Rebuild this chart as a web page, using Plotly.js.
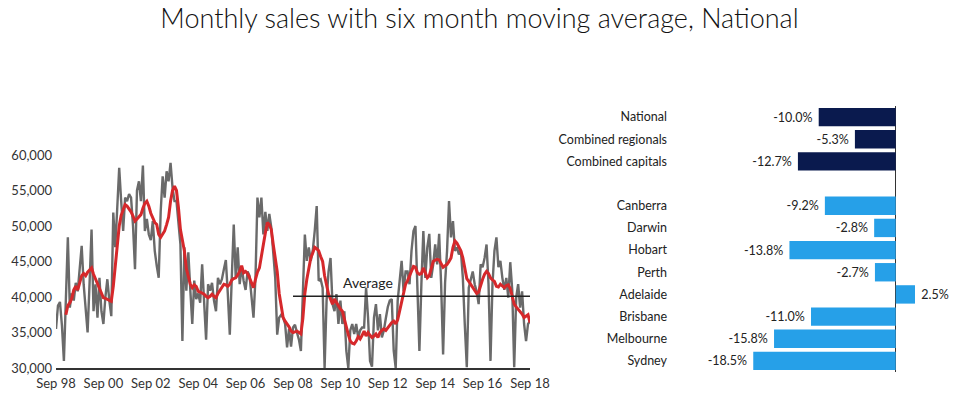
<!DOCTYPE html>
<html>
<head>
<meta charset="utf-8">
<script src="https://cdn.plot.ly/plotly-3.0.1.min.js"></script>
<style>html,body{margin:0;padding:0;background:#fff;}#chart{width:959px;height:399px;}</style>
</head>
<body>
<div id="chart"></div>
<script>
// Monthly sales, Sep 1998 (index 0) to Sep 2018 (index 240)
const monthlySales = [
  35500, 38800, 39300, 36000, 31000, 40000, 48400, 38500, 40500, 39500, 42000, 40800,
  44500, 47200, 41800, 38500, 35000, 42000, 49500, 38000, 41800, 37100, 42700, 38000,
  36200, 40000, 42500, 39500, 37300, 51900, 47000, 52500, 58200, 53500, 49300, 54000,
  53500, 54500, 54000, 50000, 43900, 55000, 56300, 53500, 58500, 49300, 51000, 48800,
  48000, 50700, 46500, 44400, 42700, 52000, 57000, 54000, 57700, 56300, 58900, 55400,
  53500, 53500, 50500, 47400, 33800, 47000, 40900, 46300, 41000, 36200, 42300, 39700,
  40500, 39200, 44600, 40000, 34000, 41800, 40900, 42000, 39500, 38000, 42700, 41800,
  42500, 43900, 45200, 40400, 34700, 42700, 50200, 42700, 47000, 41800, 44200, 42300,
  41000, 43600, 43000, 40000, 37100, 42700, 54000, 51200, 54000, 48800, 52000, 49300,
  51700, 49800, 46500, 42700, 34700, 37100, 37500, 37100, 36200, 32900, 35500, 33000,
  35700, 36100, 35000, 34000, 32400, 41000, 48800, 45100, 47000, 45100, 46500, 49300,
  52800, 42300, 42500, 41300, 30000, 39500, 43600, 45500, 39000, 38000, 40400, 36200,
  39500, 36200, 38000, 32400, 30000, 35300, 36200, 34800, 36200, 34300, 35300, 35700,
  35700, 41300, 37100, 31000, 30200, 37100, 39000, 35300, 37600, 34300, 35300, 37000,
  38600, 39500, 39700, 32400, 30000, 39500, 42700, 45100, 40800, 43600, 43600, 41800,
  46500, 49300, 50000, 40000, 32400, 41800, 49300, 42700, 47000, 48900, 42700, 44600,
  47400, 44600, 48900, 41800, 31900, 42000, 46500, 53500, 48400, 50700, 46500, 47000,
  46000, 46500, 42700, 36000, 30100, 41300, 42700, 43600, 41800, 40800, 39000, 44600,
  44200, 45500, 47400, 41800, 31000, 41800, 46500, 48400, 44200, 45100, 42700, 41000,
  42700, 39900, 44900, 41000, 30100, 39900, 41800, 38500, 40800, 36200, 33800, 36200,
  36600
];
// Six month moving average, Feb 1999 (index 5) to Sep 2018
const movingAvgStart = 5;
const movingAverage = [
  37500, 38800, 39200, 39800, 41000, 41500, 41000,
  42000, 43000, 43300, 43000, 43500, 43800, 44100, 43200, 42500, 41800, 41200, 40500,
  39900, 39800, 39700, 39500, 39400, 41500, 44500, 47500, 50000, 51500, 52300, 53000,
  52800, 52400, 52000, 51400, 50700, 51000, 51300, 51600, 52500, 53200, 53500, 52800,
  51800, 51000, 50500, 50200, 48800, 48400, 48800, 49300, 50200, 51200, 53500, 55000,
  55600, 55000, 52600, 49500, 48000, 46500, 44000, 42700, 41800, 41300, 41700, 41500,
  40800, 40700, 40600, 40400, 40100, 39900, 40100, 40400, 40100, 39900, 40500, 41000,
  41300, 41800, 41700, 41500, 41800, 42400, 42600, 42700, 43100, 43600, 44400, 43400,
  43600, 43300, 42700, 42000, 41300, 42500, 43500, 44100, 46000, 47400, 49000, 50500,
  50200, 49500, 47400, 45500, 43600, 40500, 38500, 37100, 36600, 36200, 35800, 35200,
  35000, 35100, 35200, 35000, 34800, 37000, 40500, 42500, 44200, 45500, 46200, 47000,
  46800, 46500, 45700, 45000, 43000, 41500, 40400, 39700, 39000, 39700, 39200, 38600,
  38300, 38000, 36800, 35500, 34700, 33800, 33500, 33400, 33800, 34400, 34100, 34600,
  35200, 34500, 35000, 34600, 34300, 34500, 34800, 34300, 35000, 35300, 35500, 35300,
  35700, 36100, 36400, 36600, 36200, 36800, 38000, 39500, 40800, 41800, 42300, 43000,
  43700, 44300, 44200, 43400, 43200, 43300, 44100, 43500, 42700, 43000, 44200, 45000,
  45200, 45300, 45200, 44600, 44200, 44400, 44600, 45000, 45500, 47000, 47900, 47600,
  47000, 46500, 45500, 44000, 42600, 42200, 41800, 41300, 40900, 40500, 40700, 41700,
  42500, 43200, 43600, 43300, 42700, 42400, 42200, 41500, 41400, 41800, 41600, 41300,
  41600, 41700, 41200, 40000, 39000, 38600, 38300, 38000, 37600, 37100, 37300, 37500,
  36400
];
const averageValue = 40100;
const averageFrom = 120; // Sep 08
const averageTo = 240;   // Sep 18
const averageLabel = "Average";
const xTickLabels = ["Sep 98","Sep 00","Sep 02","Sep 04","Sep 06","Sep 08","Sep 10","Sep 12","Sep 14","Sep 16","Sep 18"];
const yTickValues = [30000, 35000, 40000, 45000, 50000, 55000, 60000];

// Annual change bar chart
const regions = ["National","Combined regionals","Combined capitals"," ","Canberra","Darwin","Hobart","Perth","Adelaide","Brisbane","Melbourne","Sydney"];
const annualChange = [-10.0, -5.3, -12.7, null, -9.2, -2.8, -13.8, -2.7, 2.5, -11.0, -15.8, -18.5];
const regionGroup = ["agg","agg","agg","","city","city","city","city","city","city","city","city"];

const NAVY = "#0a1a4e", BLUE = "#26a0e8", GREY = "#6a6a6a", RED = "#d6282b";
const FONT = "Lato, 'Open Sans', sans-serif";
const PAD = "\u00a0";

const monthIdx = monthlySales.map((_, i) => i);
const maIdx = movingAverage.map((_, i) => i + movingAvgStart);
const xTickVals = xTickLabels.map((_, i) => i * 24);

const traces = [
  {type:"scatter", mode:"lines", x: monthIdx, y: monthlySales, line:{color:GREY, width:2.4}, hoverinfo:"skip"},
  {type:"scatter", mode:"lines", x: maIdx, y: movingAverage, line:{color:RED, width:3}, hoverinfo:"skip"},
  {type:"scatter", mode:"lines", x:[averageFrom, averageTo], y:[averageValue, averageValue], line:{color:"#222", width:1.6}, hoverinfo:"skip"},
  {type:"bar", orientation:"h", x: annualChange, y: regions, xaxis:"x2", yaxis:"y2",
   marker:{color: regionGroup.map(g => g === "agg" ? NAVY : BLUE)},
   text: annualChange.map(v => v == null ? "" : (v < 0 ? v.toFixed(1) + "%" + PAD : PAD + v.toFixed(1) + "%")),
   textposition:"outside", cliponaxis:false,
   textfont:{family:FONT, size:12.5, color:"#222"}, hoverinfo:"skip"}
];

const layout = {
  width:959, height:399,
  margin:{l:0, r:0, t:0, b:0},
  paper_bgcolor:"#fff", plot_bgcolor:"rgba(0,0,0,0)",
  showlegend:false,
  font:{family:FONT, color:"#222"},
  title:{text:"Monthly sales with six month moving average, National",
         font:{family:FONT, size:27, weight:300, color:"#111"},
         x:0.5, xanchor:"center", y:1 - 19/399, yanchor:"middle"},
  xaxis:{domain:[56/959, 530/959], range:[0, 240], showgrid:false, zeroline:false,
         showline:true, linecolor:"#333", linewidth:1.5, ticks:"", ticklabelstandoff:3,
         tickvals:xTickVals, ticktext:xTickLabels,
         tickfont:{family:FONT, size:13, color:"#333"}, fixedrange:true},
  yaxis:{domain:[(399-368)/399, (399-155)/399], range:[30000, 60000], showgrid:false,
         zeroline:false, showline:false, ticks:"", tickvals:yTickValues, tickformat:",",
         ticklabelstandoff:3,
         tickfont:{family:FONT, size:13, color:"#333"}, fixedrange:true},
  xaxis2:{domain:[740/959, 930/959], range:[-20.22, 4.45], anchor:"y2",
          showgrid:false, showticklabels:false, ticks:"", showline:false,
          zeroline:true, zerolinecolor:"#333", zerolinewidth:1.5, fixedrange:true},
  yaxis2:{domain:[(399-372)/399, (399-106)/399], anchor:"free", position:667/959,
          type:"category", categoryarray:regions, autorange:"reversed",
          showgrid:false, zeroline:false, showline:false, ticks:"",
          tickfont:{family:FONT, size:12.5, color:"#222"}, fixedrange:true},
  bargap:0.17,
  annotations:[{x:158, y:averageValue, xref:"x", yref:"y", text:averageLabel,
                showarrow:false, yanchor:"bottom", yshift:3,
                font:{family:FONT, size:14, color:"#222"}}]
};

Plotly.newPlot("chart", traces, layout, {displayModeBar:false, staticPlot:true});
</script>
</body>
</html>
